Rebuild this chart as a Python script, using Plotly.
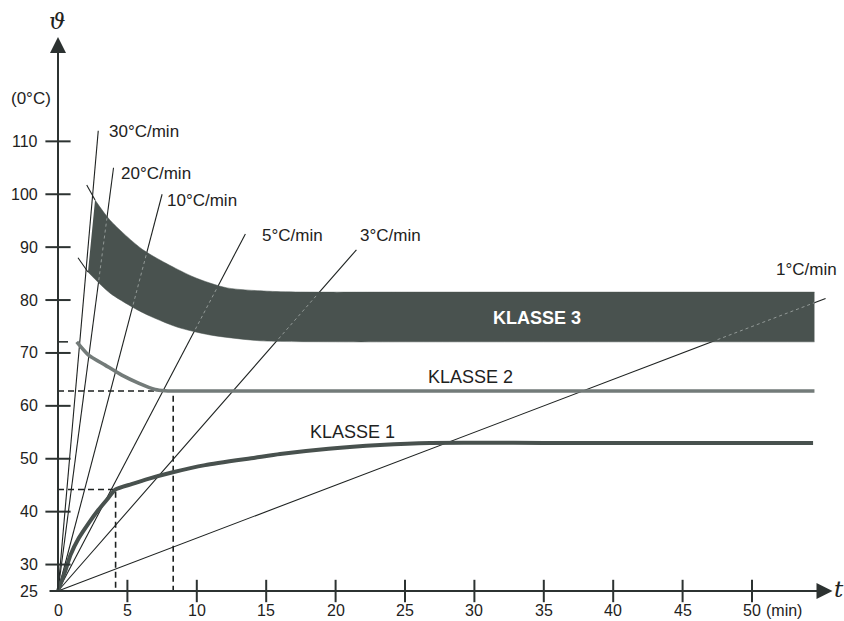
import numpy as np
import plotly.graph_objects as go

# ---------------------------------------------------------------------------
# Data
# ---------------------------------------------------------------------------
# Heating-rate rays starting at 25 °C, slope in °C/min, and where each ray stops
rates = [30, 20, 10, 5, 3, 1]
rate_end_t = [2.9, 4.0, 7.5, 13.5, 21.5, 55.3]
rate_labels = [f"{r}°C/min" for r in rates]

theta_start = 25

x_ticks = [0, 5, 10, 15, 20, 25, 30, 35, 40, 45, 50]
y_ticks = [25, 30, 40, 50, 60, 70, 80, 90, 100, 110]

# KLASSE 1 (rises to a plateau)
k1_t = [0, 0.5, 0.9, 1.5, 2.2, 2.9, 3.6, 4.15, 5.3, 6.5, 8.2, 10.6, 14.2, 16.0,
        19.5, 23.2, 26.8, 35.0, 45.0, 54.4]
k1_theta = [25, 28.6, 31.8, 35.0, 37.8, 40.3, 42.5, 44.2, 45.2, 46.2, 47.4, 48.8,
            50.2, 50.9, 51.9, 52.6, 53.0, 53.0, 53.0, 53.0]
k1_knee_t, k1_knee_theta = 4.15, 44.2

# KLASSE 2 (falls to a plateau)
k2_t = [1.35, 2.2, 3.4, 4.6, 5.8, 7.0, 7.7, 8.3, 12.0, 20.0, 30.0, 42.0, 54.5]
k2_theta = [72.1, 69.6, 67.7, 65.8, 64.3, 63.1, 62.85, 62.8, 62.8, 62.8, 62.8, 62.8, 62.8]
k2_knee_t, k2_knee_theta = 8.3, 62.8

# KLASSE 3 band: upper and lower bounds (first point = thin lead-in)
k3_upper_t = [2.07, 2.67, 3.75, 6.12, 9.73, 12.18, 15.78, 18.5, 24.0, 32.0, 42.0, 54.5]
k3_upper_theta = [101.75, 98.9, 95.1, 89.5, 84.4, 82.3, 81.6, 81.5, 81.5, 81.5, 81.5, 81.5]
k3_lower_t = [1.44, 2.16, 3.75, 6.12, 8.57, 10.95, 14.55, 20.0, 26.0, 34.0, 44.0, 54.5]
k3_lower_theta = [88.0, 85.3, 81.3, 77.6, 74.9, 73.4, 72.3, 72.1, 72.1, 72.1, 72.1, 72.1]

# ---------------------------------------------------------------------------
# Geometry / styles
# ---------------------------------------------------------------------------
W, H = 844, 621
PX_PER_MIN = 13.88
PX_PER_DEG = 5.29
ORIGIN_PX = (58, 591)

x_range = [-ORIGIN_PX[0] / PX_PER_MIN, (W - ORIGIN_PX[0]) / PX_PER_MIN]
y_range = [theta_start - (H - ORIGIN_PX[1]) / PX_PER_DEG,
           theta_start + ORIGIN_PX[1] / PX_PER_DEG]

FONT = "Liberation Sans, Arial, Helvetica, sans-serif"
INK = "#1e2221"
AXIS = "#2c3231"
K1_COL = "#48514e"
K2_COL = "#737b79"
K3_COL = "#49524f"

fig = go.Figure()

# dashed guide lines to the knees of KLASSE 1 and KLASSE 2
for kt, kth in [(k1_knee_t, k1_knee_theta), (k2_knee_t, k2_knee_theta)]:
    fig.add_trace(go.Scatter(
        x=[0, kt, kt], y=[kth, kth, theta_start], mode="lines",
        line=dict(color=INK, width=1.6, dash="6px,4px"), hoverinfo="skip"))

# heating-rate rays
for r, te in zip(rates, rate_end_t):
    fig.add_trace(go.Scatter(
        x=[0, te], y=[theta_start, theta_start + r * te], mode="lines",
        line=dict(color=INK, width=1.1), hoverinfo="skip"))

# KLASSE 3 band: lower bound, then upper bound filled down to it
fig.add_trace(go.Scatter(
    x=k3_lower_t[1:], y=k3_lower_theta[1:], mode="lines",
    line=dict(color=K3_COL, width=0.5, shape="spline", smoothing=0.7),
    hoverinfo="skip"))
fig.add_trace(go.Scatter(
    x=k3_upper_t[1:], y=k3_upper_theta[1:], mode="lines", fill="tonexty",
    fillcolor=K3_COL,
    line=dict(color=K3_COL, width=0.5, shape="spline", smoothing=0.7),
    hoverinfo="skip"))

# faint traces of the rays where they cross the band
ut = np.array(k3_upper_t[1:]); uy = np.array(k3_upper_theta[1:])
lt = np.array(k3_lower_t[1:]); ly = np.array(k3_lower_theta[1:])
for r, te in zip(rates, rate_end_t):
    tt = np.linspace(0, te, 1500)
    yy = theta_start + r * tt
    up = np.interp(tt, ut, uy, left=np.nan, right=np.nan)
    lo = np.interp(tt, lt, ly, left=np.nan, right=np.nan)
    inside = (yy < up - 0.4) & (yy > lo + 0.4)
    if inside.any():
        fig.add_trace(go.Scatter(
            x=tt, y=np.where(inside, yy, np.nan), mode="lines",
            line=dict(color="rgba(205,212,210,0.55)", width=1, dash="dot"),
            connectgaps=False, hoverinfo="skip"))

# thin lead-ins of the band bounds
for bt, by in [(k3_upper_t[:2], k3_upper_theta[:2]), (k3_lower_t[:2], k3_lower_theta[:2])]:
    fig.add_trace(go.Scatter(x=bt, y=by, mode="lines",
                             line=dict(color=INK, width=1.1), hoverinfo="skip"))

# KLASSE 2 and KLASSE 1 curves
fig.add_trace(go.Scatter(x=k2_t, y=k2_theta, mode="lines",
                         line=dict(color=K2_COL, width=3.6, shape="spline", smoothing=0.6),
                         hoverinfo="skip"))
fig.add_trace(go.Scatter(x=k1_t, y=k1_theta, mode="lines",
                         line=dict(color=K1_COL, width=4, shape="spline", smoothing=0.6),
                         hoverinfo="skip"))

# axis ticks crossing the axes
fig.add_trace(go.Scatter(
    x=[0] * (len(y_ticks) - 1), y=y_ticks[1:], mode="markers",
    marker=dict(symbol="line-ew", size=18, color=AXIS, line=dict(color=AXIS, width=2)),
    hoverinfo="skip"))
fig.add_trace(go.Scatter(
    x=x_ticks[1:], y=[theta_start] * (len(x_ticks) - 1), mode="markers",
    marker=dict(symbol="line-ns", size=16, color=AXIS, line=dict(color=AXIS, width=2)),
    hoverinfo="skip"))
# short mark at the lower KLASSE 3 limit
fig.add_trace(go.Scatter(
    x=[0, 10 / PX_PER_MIN], y=[k3_lower_theta[-1]] * 2, mode="lines",
    line=dict(color=AXIS, width=1.6), hoverinfo="skip"))

annotations = []

# axes with arrowheads
annotations.append(dict(x=55.8, y=theta_start, ax=-10 / PX_PER_MIN, ay=theta_start,
                        xref="x", yref="y", axref="x", ayref="y", text="",
                        showarrow=True, arrowhead=2, arrowsize=1.6, arrowwidth=2,
                        arrowcolor=AXIS))
annotations.append(dict(x=0, y=theta_start + (ORIGIN_PX[1] - 37) / PX_PER_DEG,
                        ax=0, ay=theta_start, xref="x", yref="y", axref="x", ayref="y",
                        text="", showarrow=True, arrowhead=2, arrowsize=1.6,
                        arrowwidth=2, arrowcolor=AXIS))

tick_font = dict(family=FONT, size=16, color=INK)
for v in y_ticks:
    annotations.append(dict(x=0, y=v, text=str(v), xanchor="right", yanchor="middle",
                            xshift=-18, showarrow=False, font=tick_font))
# time labels sit on the bottom edge of the figure
x_label_shift = -(H - 1 - ORIGIN_PX[1])
for v in x_ticks:
    annotations.append(dict(x=v, y=theta_start, text=str(v), xanchor="center",
                            yanchor="bottom", yshift=x_label_shift, borderpad=0,
                            showarrow=False, font=tick_font))
annotations.append(dict(x=x_ticks[-1], y=theta_start, text="(min)", xanchor="left",
                        yanchor="bottom", xshift=13, yshift=x_label_shift, borderpad=0,
                        showarrow=False, font=tick_font))
annotations.append(dict(x=53 / W, y=1 - 98 / H, xref="paper", yref="paper", text="(0°C)",
                        xanchor="right", yanchor="middle", showarrow=False,
                        font=dict(family=FONT, size=17, color=INK)))

# axis symbols
sym_font = dict(family="DejaVu Serif, serif", size=23, color=INK)
annotations.append(dict(x=57 / W, y=1 - 21 / H, xref="paper", yref="paper",
                        text="<i>ϑ</i>", xanchor="center", yanchor="middle",
                        showarrow=False, font=sym_font))
annotations.append(dict(x=839 / W, y=1 - 589 / H, xref="paper", yref="paper",
                        text="<i>t</i>", xanchor="center", yanchor="middle",
                        showarrow=False, font=sym_font))

# heating-rate labels at the ray ends
label_offsets = {30: (9, -1, "left"), 20: (5, -6, "left"), 10: (3, -6, "left"),
                 5: (15, -2, "left"), 3: (2, 14, "left"), 1: (13, 29, "right")}
rate_font = dict(family=FONT, size=17, color=INK)
for r, te, lab in zip(rates, rate_end_t, rate_labels):
    dx, dy, anchor = label_offsets[r]
    annotations.append(dict(x=te, y=theta_start + r * te, text=lab, xanchor=anchor,
                            yanchor="middle", xshift=dx, yshift=dy, showarrow=False,
                            font=rate_font))

# class labels
annotations.append(dict(x=34.5, y=(k3_upper_theta[-1] + k3_lower_theta[-1]) / 2,
                        text="<b>KLASSE 3</b>", showarrow=False, yshift=-1,
                        font=dict(family=FONT, size=18, color="white")))
annotations.append(dict(x=29.7, y=k2_theta[-1], text="KLASSE 2", showarrow=False,
                        yanchor="bottom", yshift=2,
                        font=dict(family=FONT, size=18, color=INK)))
annotations.append(dict(x=21.2, y=k1_theta[-1], text="KLASSE 1", showarrow=False,
                        yanchor="bottom", yshift=-1,
                        font=dict(family=FONT, size=18, color=INK)))

fig.update_layout(
    width=W, height=H,
    margin=dict(l=0, r=0, t=0, b=0),
    paper_bgcolor="white", plot_bgcolor="white",
    showlegend=False,
    xaxis=dict(range=x_range, visible=False, fixedrange=True),
    yaxis=dict(range=y_range, visible=False, fixedrange=True),
    annotations=annotations,
)

fig.write_html("out.html")
